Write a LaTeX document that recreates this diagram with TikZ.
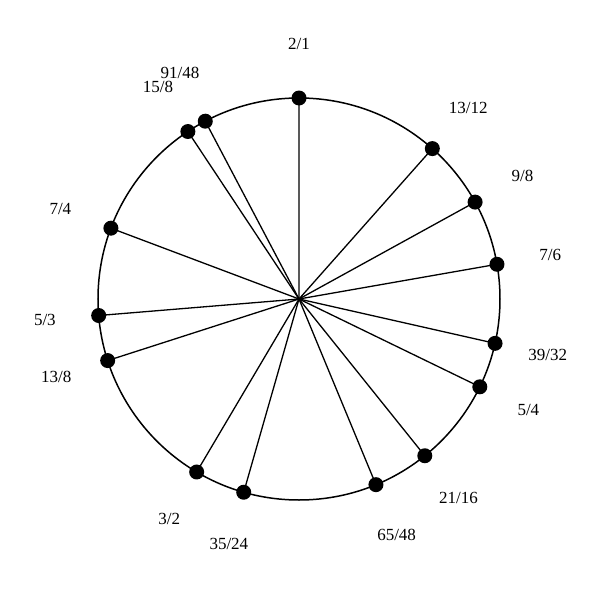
\documentclass[tikz,border=0pt]{standalone}
\usepackage{fontspec}
\setmainfont{Liberation Serif}
\begin{document}
\begin{tikzpicture}[x=1pt,y=1pt,
  dot/.style={circle,fill=black,draw=none,inner sep=0pt,minimum size=15pt},
  ratiolabel/.style={inner sep=0pt,font=\fontsize{17}{20}\selectfont},
  spoke/.style={line width=1.3pt},
  rim/.style={line width=1.5pt}]
\useasboundingbox (-299,-301) rectangle (301,299);
\coordinate (c) at (0,0);
\draw[rim] (c) circle[radius=201];
\foreach \a/\b [count=\i] in {2/1,13/12,9/8,7/6,39/32,5/4,21/16,65/48,35/24,3/2,13/8,5/3,7/4,15/8,91/48}{
  \pgfmathsetmacro{\ang}{90-360*ln(\a/\b)/ln(2)}
  \coordinate (q\i) at (\ang:201);
  \draw[spoke] (c) -- (q\i);
  \node[dot] (p\i) at (\ang:201) {};
  \node[ratiolabel] (l\i) at (\ang:255) {\a/\b};
}
\end{tikzpicture}
\end{document}
